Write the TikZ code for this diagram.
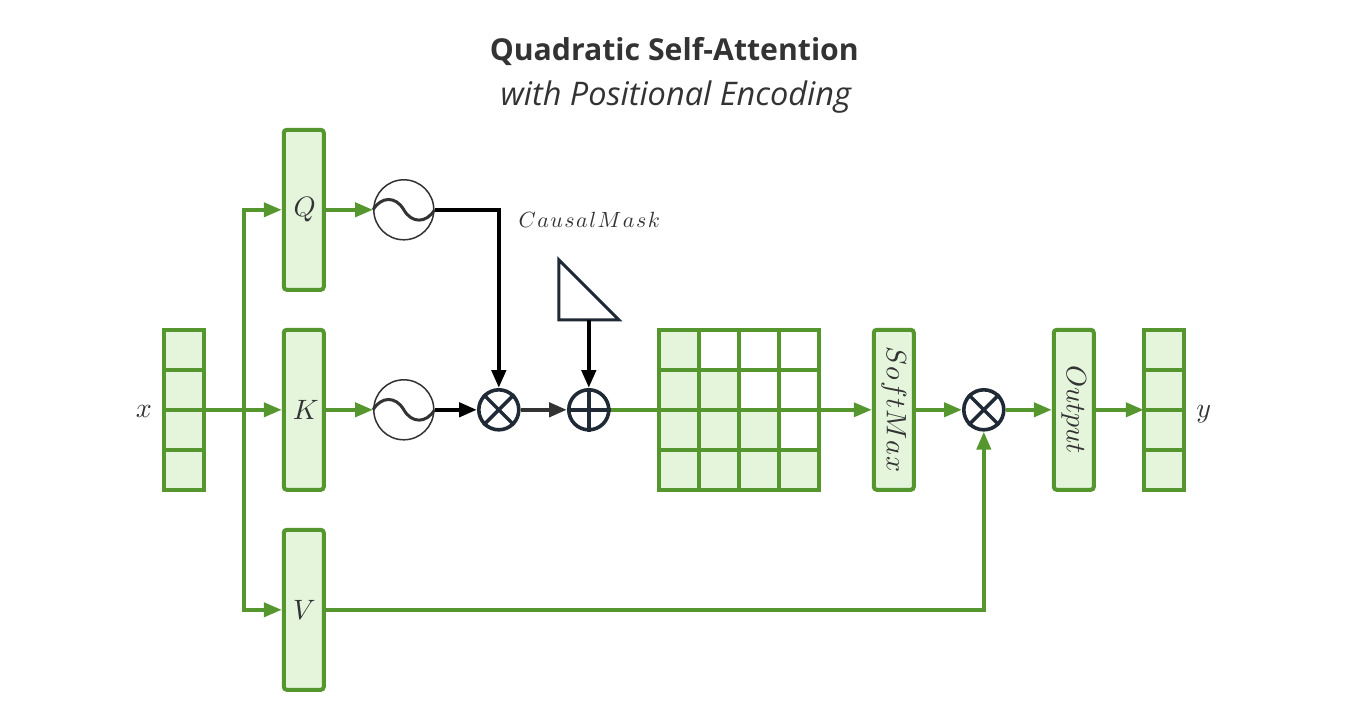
\documentclass[tikz,border=0pt]{standalone}
\usepackage{graphicx}
\usepackage{fontspec}
\setmainfont{Open Sans}
\usetikzlibrary{arrows.meta,calc}
\definecolor{gr}{HTML}{56962F}
\definecolor{lg}{HTML}{E4F5DC}
\definecolor{ink}{HTML}{333333}
\definecolor{navy}{HTML}{1F2A36}
\newcommand{\mlabel}[1]{\scalebox{2.8}{$#1$}}
\tikzset{
  x=1pt,y=-1pt,
  bar/.style={draw=gr,fill=lg,line width=4pt,rounded corners=3pt,minimum width=40pt,minimum height=160pt,inner sep=0pt,text=ink},
  cell/.style={draw=gr,fill=lg,line width=4pt,minimum width=40pt,minimum height=40pt,inner sep=0pt},
  blank/.style={cell,fill=white},
  flow/.style={draw=gr,line width=4pt,-{Triangle[length=18pt,width=14pt]}},
  thinflow/.style={flow,line width=3.4pt},
  kflow/.style={draw=black,line width=4.4pt,-{Triangle[length=18pt,width=14pt]}},
  dflow/.style={kflow,draw=ink,fill=ink},
  osc/.style={circle,draw=ink,line width=1.5pt,minimum size=60pt,inner sep=0pt,fill=white},
  opc/.style={circle,draw=navy,line width=3.6pt,minimum size=40pt,inner sep=0pt,fill=white},
  mtext/.style={text=ink,inner sep=0pt},
}
\begin{document}
\begin{tikzpicture}
\useasboundingbox (0.2,0.2) rectangle (1347.2,714.2);
\node[text=ink,font=\fontsize{30.2}{36}\selectfont\bfseries] (title) at (674.5,51.5) {Quadratic Self-Attention};
\node[text=ink,font=\fontsize{32.5}{38}\selectfont\itshape] (subtitle) at (676,97.5) {with Positional Encoding};
% input stack
\foreach \i/\yy in {1/350,2/390,3/430,4/470}{
  \node[cell] (xc\i) at (184,\yy) {};
  \node[cell] (yc\i) at (1164,\yy) {};
}
\coordinate (xout) at (184,410);
\coordinate (yin) at (1144,410);
\node[mtext] (xlab) at (144,412) {\mlabel{x}};
\node[mtext] (ylab) at (1204,414) {\mlabel{y}};
% Q K V
\node[bar] (Q) at (304,210) {\hspace{2pt}\raisebox{-3pt}{\mlabel{Q}}};
\node[bar] (K) at (304,410) {\hspace{4pt}\mlabel{K}};
\node[bar] (V) at (304,610) {\hspace{1pt}\mlabel{V}};
\coordinate (jn) at (244,410);
% oscillators
\node[osc] (oq) at (404,210) {};
\node[osc] (ok) at (404,410) {};
\foreach \o in {oq,ok}{
  \draw[ink,line width=3pt] (\o.west) .. controls ($(\o.west)+(8,-13.5)$) and ($(\o.center)+(-8,-14)$) .. (\o.center)
     .. controls ($(\o.center)+(8,14)$) and ($(\o.east)+(-8,13.5)$) .. (\o.east);
}
% operators
\node[opc] (mul1) at (499,410) {};
\draw[navy,line width=3.4pt] (mul1.45) -- (mul1.225) (mul1.135) -- (mul1.315);
\node[opc] (add) at (589,410) {};
\draw[navy,line width=3.4pt] (add.north) -- (add.south) (add.west) -- (add.east);
\node[opc] (mul2) at (984,410) {};
\draw[navy,line width=3.4pt] (mul2.45) -- (mul2.225) (mul2.135) -- (mul2.315);
% mask
\node[mtext] (masklab) at (589.5,220) {\scalebox{2.2}{$C\mkern1.2mu a\mkern1.2mu u\mkern1.2mu s\mkern1.2mu a\mkern1.2mu l\mkern1.2mu M\mkern1.2mu a\mkern1.2mu s\mkern1.2mu k$}};
\coordinate (t1) at (559,260);
\coordinate (t2) at (559,320);
\coordinate (t3) at (619,320);
\coordinate (tb) at (589,320);
\draw[navy,line width=3pt,fill=white,line join=miter] (t1) -- (t2) -- (t3) -- cycle;
% grid
\foreach \r in {1,...,4}{
  \foreach \c in {1,...,4}{
    \pgfmathsetmacro{\cx}{679+40*(\c-1)}
    \pgfmathsetmacro{\cy}{350+40*(\r-1)}
    \ifnum\c>\r
      \node[blank] (g\r\c) at (\cx,\cy) {};
    \else
      \node[cell] (g\r\c) at (\cx,\cy) {};
    \fi
  }
}
% softmax, output
\node[bar] (sm) at (894,410) {\rotatebox{-90}{\mlabel{S\mkern.6mu o\mkern.6mu f\mkern.6mu t\mkern.6mu M\mkern.6mu a\mkern.6mu x}}};
\node[bar] (out) at (1074,410) {\rotatebox{-90}{\mlabel{Output}}};
% connectors
\draw[flow] (xout) -- (K.west);
\draw[flow] (jn) |- (Q.west);
\draw[flow] (jn) |- (V.west);
\draw[flow] (Q.east) -- (oq.west);
\draw[flow] (K.east) -- (ok.west);
\draw[kflow] (oq.east) -| (mul1.north);
\draw[kflow] (ok.east) -- (mul1.west);
\draw[dflow] (mul1.east) -- (add.west);
\draw[kflow] (tb) -- (add.north);
\draw[thinflow] (add.east) -- (sm.west);
\draw[flow] (sm.east) -- (mul2.west);
\draw[flow] (V.east) -| (mul2.south);
\draw[flow] (mul2.east) -- (out.west);
\draw[flow] (out.east) -- (yin);
\end{tikzpicture}
\end{document}
